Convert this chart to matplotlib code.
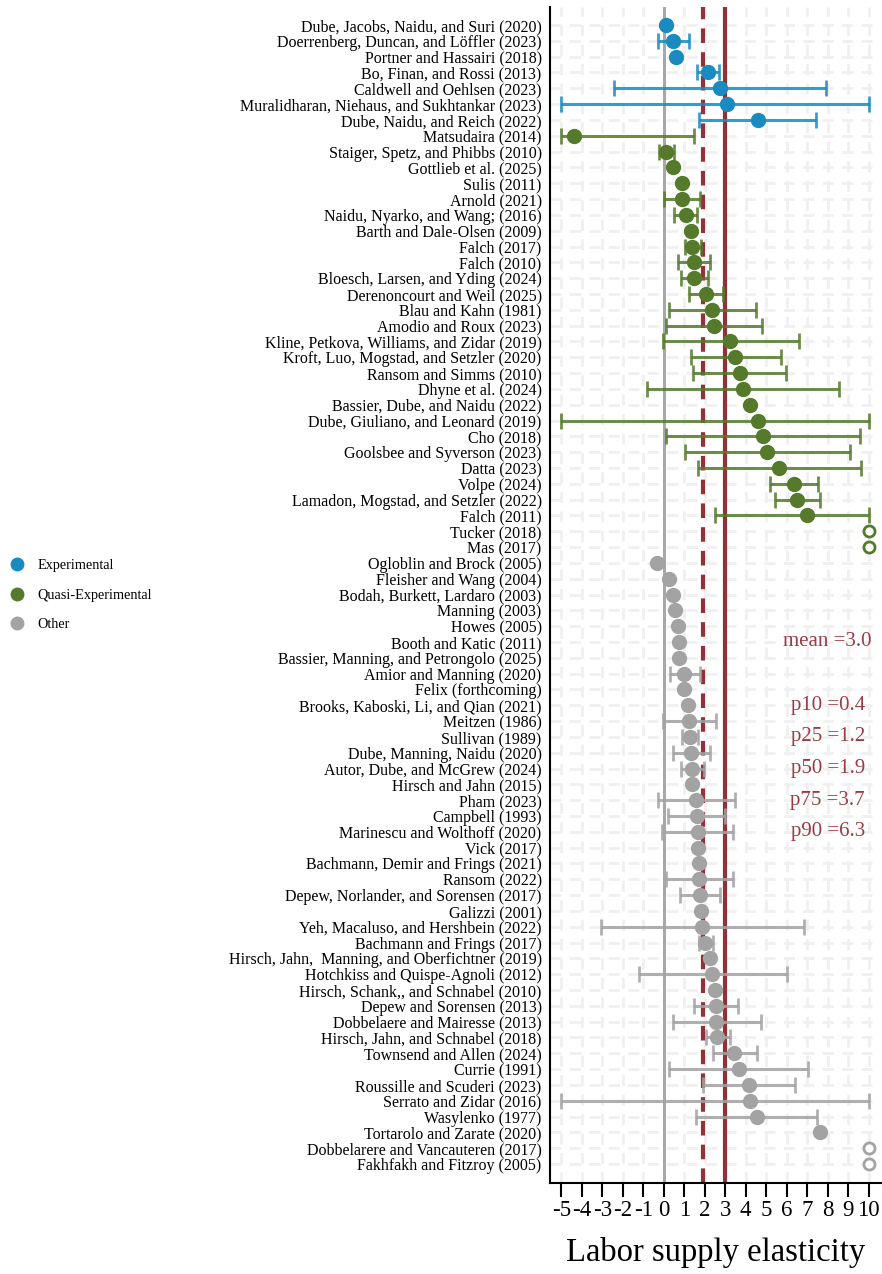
import numpy as np
import matplotlib
matplotlib.use("Agg")
import matplotlib.pyplot as plt
from matplotlib.lines import Line2D

plt.rcParams['font.family'] = ['Liberation Serif', 'DejaVu Serif']
plt.rcParams['axes.unicode_minus'] = False

# estimates and confidence bounds by design type
# None in the estimate list = estimate above the top of the scale
names_exp = [
    "Dube, Jacobs, Naidu, and Suri (2020)",
    "Doerrenberg, Duncan, and Löffler (2023)",
    "Portner and Hassairi (2018)",
    "Bo, Finan, and Rossi (2013)",
    "Caldwell and Oehlsen (2023)",
    "Muralidharan, Niehaus, and Sukhtankar (2023)",
    "Dube, Naidu, and Reich (2022)",
]
est_exp = [0.13, 0.46, 0.62, 2.15, 2.74, 3.10, 4.58]
lo_exp = [None, -0.29, None, 1.60, -2.44, -5.0, 1.74]
hi_exp = [None, 1.21, None, 2.72, 7.93, 10.0, 7.43]

names_quasi = [
    "Matsudaira (2014)",
    "Staiger, Spetz, and Phibbs (2010)",
    "Gottlieb et al. (2025)",
    "Sulis (2011)",
    "Arnold (2021)",
    "Naidu, Nyarko, and Wang; (2016)",
    "Barth and Dale-Olsen (2009)",
    "Falch (2017)",
    "Falch (2010)",
    "Bloesch, Larsen, and Yding (2024)",
    "Derenoncourt and Weil (2025)",
    "Blau and Kahn (1981)",
    "Amodio and Roux (2023)",
    "Kline, Petkova, Williams, and Zidar (2019)",
    "Kroft, Luo, Mogstad, and Setzler (2020)",
    "Ransom and Simms (2010)",
    "Dhyne et al. (2024)",
    "Bassier, Dube, and Naidu (2022)",
    "Dube, Giuliano, and Leonard (2019)",
    "Cho (2018)",
    "Goolsbee and Syverson (2023)",
    "Datta (2023)",
    "Volpe (2024)",
    "Lamadon, Mogstad, and Setzler (2022)",
    "Falch (2011)",
    "Tucker (2018)",
    "Mas (2017)",
]
est_quasi = [-4.36, 0.13, 0.44, 0.88, 0.88, 1.07, 1.34, 1.40, 1.47, 1.48,
             2.05, 2.35, 2.44, 3.24, 3.50, 3.70, 3.88, 4.20, 4.59, 4.82,
             5.05, 5.64, 6.35, 6.52, 7.00, None, None]
lo_quasi = [-5.0, -0.21, None, None, 0.02, 0.49, None, 1.03, 0.68, 0.83,
            1.22, 0.26, 0.10, -0.06, 1.32, 1.42, -0.80, None, -5.0, 0.10,
            1.03, 1.66, 5.18, 5.44, 2.51, None, None]
hi_quasi = [1.47, 0.52, None, None, 1.79, 1.63, None, 1.81, 2.25, 2.17,
            2.88, 4.48, 4.80, 6.58, 5.70, 5.98, 8.55, None, 10.0, 9.56,
            9.10, 9.61, 7.51, 7.60, 10.0, None, None]

names_other = [
    "Ogloblin and Brock (2005)",
    "Fleisher and Wang (2004)",
    "Bodah, Burkett, Lardaro (2003)",
    "Manning (2003)",
    "Howes (2005)",
    "Booth and Katic (2011)",
    "Bassier, Manning, and Petrongolo (2025)",
    "Amior and Manning (2020)",
    "Felix (forthcoming)",
    "Brooks, Kaboski, Li, and Qian (2021)",
    "Meitzen (1986)",
    "Sullivan (1989)",
    "Dube, Manning, Naidu (2020)",
    "Autor, Dube, and McGrew (2024)",
    "Hirsch and Jahn (2015)",
    "Pham (2023)",
    "Campbell (1993)",
    "Marinescu and Wolthoff (2020)",
    "Vick (2017)",
    "Bachmann, Demir and Frings (2021)",
    "Ransom (2022)",
    "Depew, Norlander, and Sorensen (2017)",
    "Galizzi (2001)",
    "Yeh, Macaluso, and Hershbein (2022)",
    "Bachmann and Frings (2017)",
    "Hirsch, Jahn,  Manning, and Oberfichtner (2019)",
    "Hotchkiss and Quispe-Agnoli (2012)",
    "Hirsch, Schank,, and Schnabel (2010)",
    "Depew and Sorensen (2013)",
    "Dobbelaere and Mairesse (2013)",
    "Hirsch, Jahn, and Schnabel (2018)",
    "Townsend and Allen (2024)",
    "Currie (1991)",
    "Roussille and Scuderi (2023)",
    "Serrato and Zidar (2016)",
    "Wasylenko (1977)",
    "Tortarolo and Zarate (2020)",
    "Dobbelarere and Vancauteren (2017)",
    "Fakhfakh and Fitzroy (2005)",
]
est_other = [-0.32, 0.28, 0.44, 0.56, 0.70, 0.72, 0.75, 1.01, 1.01, 1.19,
             1.21, 1.30, 1.35, 1.39, 1.39, 1.58, 1.60, 1.65, 1.65, 1.71,
             1.74, 1.76, 1.84, 1.89, 2.02, 2.25, 2.36, 2.51, 2.54, 2.57,
             2.62, 3.45, 3.66, 4.14, 4.19, 4.53, 7.61, None, None]
lo_other = [None, None, None, None, None, None, None, 0.31, None, None,
            -0.06, 0.88, 0.46, 0.83, None, -0.29, 0.21, -0.10, None, None,
            0.13, 0.78, None, -3.04, 1.70, None, -1.22, None, 1.50, 0.46,
            2.04, 2.39, 0.26, 1.92, -5.0, 1.55, None, None, None]
hi_other = [None, None, None, None, None, None, None, 1.76, None, None,
            2.56, 1.68, 2.28, 1.94, None, 3.47, 2.98, 3.37, None, None,
            3.36, 2.75, None, 6.84, 2.38, None, 6.01, None, 3.62, 4.76,
            3.21, 4.53, 7.05, 6.38, 10.0, 7.49, None, None, None]

# summary statistics of the estimates
stat_names = ["mean", "p10", "p25", "p50", "p75", "p90"]
stat_values = [3.0, 0.4, 1.2, 1.9, 3.7, 6.3]
stat_rows = [39, 43, 45, 47, 49, 51]

groups = [
    ("Experimental", names_exp, est_exp, lo_exp, hi_exp, "#1a8bc0"),
    ("Quasi-Experimental", names_quasi, est_quasi, lo_quasi, hi_quasi, "#557a2b"),
    ("Other", names_other, est_other, lo_other, hi_other, "#a3a3a3"),
]
red = "#923138"
x_cap = 10

fig = plt.figure(figsize=(8.82, 12.74), dpi=100)
ax = fig.add_axes([550 / 882, 91 / 1274, 331 / 882, 1176 / 1274])

def to_arr(v):
    return np.array([np.nan if a is None else a for a in v], dtype=float)

labels = []
start = 0
for name, names, est, lo, hi, col in groups:
    est, lo, hi = to_arr(est), to_arr(lo), to_arr(hi)
    y = np.arange(start, start + len(names))
    ci = ~np.isnan(lo)
    ax.errorbar(est[ci], y[ci], xerr=[est[ci] - lo[ci], hi[ci] - est[ci]],
                fmt='none', ecolor=col, alpha=0.85, elinewidth=2.2,
                capsize=6, capthick=2, zorder=3)
    ok = ~np.isnan(est)
    ax.plot(est[ok], y[ok], 'o', ms=10, color=col, zorder=4)
    off = ~ok
    ax.plot(np.full(off.sum(), x_cap), y[off], 'o', ms=8, mfc='white',
            mec=col, mew=2, zorder=4, clip_on=False)
    labels += names
    start += len(names)

mean_val = stat_values[stat_names.index("mean")]
p50_val = stat_values[stat_names.index("p50")]
ax.axvline(0, color="#a8a8a8", lw=2.2, zorder=2)
ax.axvline(mean_val, color=red, lw=3, zorder=2)
ax.axvline(p50_val, color=red, lw=3, ls=(0, (3.5, 2.2)), zorder=2)

for n, v, r in zip(stat_names, stat_values, stat_rows):
    ax.text(8.0, r, f"{n} ={v:.1f}", ha='center', va='center',
            color="#9a3a44", fontsize=15)

# faint dashed background grid
ax.set_axisbelow(True)
ax.grid(True, color="#f0f0f0", lw=2, ls=(0, (4, 3)))

ax.set_xlim(-5.55, 10.6)
ax.set_ylim(len(labels) - 1 + 1.2, -1.14)
ax.set_xticks(range(-5, 11))
ax.set_yticks(range(len(labels)))
ax.set_yticklabels(labels, fontsize=11.5)
ax.tick_params(axis='y', length=0, pad=6)
ax.tick_params(axis='x', length=10, width=1.5, labelsize=16.5, pad=2)
ax.set_xlabel("Labor supply elasticity", fontsize=23.5, labelpad=12)
for s in ["top", "right"]:
    ax.spines[s].set_visible(False)
ax.spines["left"].set_linewidth(1.5)
ax.spines["bottom"].set_linewidth(1.5)

handles = [Line2D([], [], marker='o', ls='none', ms=9, color=g[5]) for g in groups]
fig.legend(handles, [g[0] for g in groups], loc='center left',
           bbox_to_anchor=(0.0, 1 - 595 / 1274), frameon=False, fontsize=10.3,
           labelspacing=1.15, handletextpad=0.6, handlelength=1.6,
           borderaxespad=0.0)

fig.savefig("out.png", dpi=100)
